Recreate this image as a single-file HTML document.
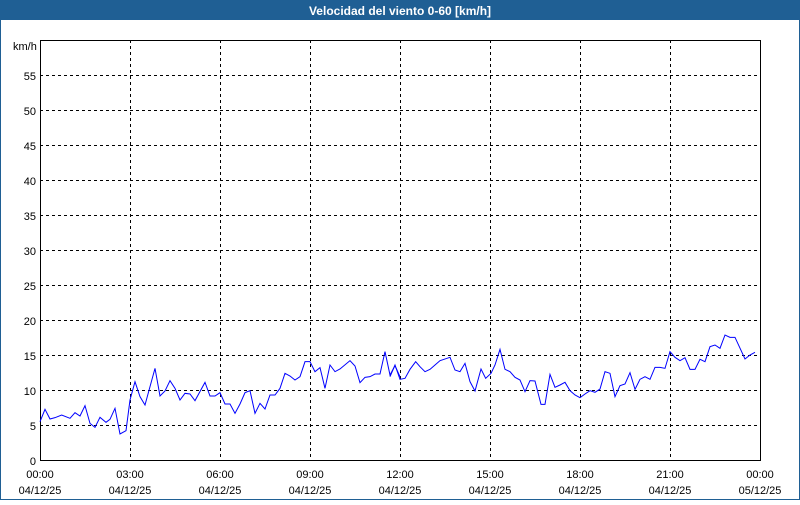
<!DOCTYPE html>
<html><head><meta charset="utf-8"><style>
body{margin:0;width:800px;height:500px;overflow:hidden;background:#fff;font-family:"Liberation Sans",sans-serif}
</style></head><body>
<svg width="800" height="500" xmlns="http://www.w3.org/2000/svg" font-family="Liberation Sans, sans-serif" font-size="11">
<rect x="0" y="0" width="800" height="500" fill="#fff"/>
<rect x="0" y="0" width="800" height="20" fill="#1f5f94"/>
<rect x="0" y="0" width="1" height="500" fill="#1f5f94"/>
<rect x="799" y="0" width="1" height="500" fill="#1f5f94"/>
<rect x="0" y="499" width="800" height="1" fill="#1f5f94"/>
<text x="400" y="15" fill="#fff" font-weight="bold" text-anchor="middle" font-size="12">Velocidad del viento 0-60 [km/h]</text>
<text x="13" y="50" fill="#000">km/h</text>
<g stroke="#000" stroke-dasharray="3,3" stroke-width="1">
<line x1="40" y1="75.5" x2="760" y2="75.5"/><line x1="40" y1="110.5" x2="760" y2="110.5"/>
<line x1="40" y1="145.5" x2="760" y2="145.5"/><line x1="40" y1="180.5" x2="760" y2="180.5"/>
<line x1="40" y1="215.5" x2="760" y2="215.5"/><line x1="40" y1="250.5" x2="760" y2="250.5"/>
<line x1="40" y1="285.5" x2="760" y2="285.5"/><line x1="40" y1="320.5" x2="760" y2="320.5"/>
<line x1="40" y1="355.5" x2="760" y2="355.5"/><line x1="40" y1="390.5" x2="760" y2="390.5"/>
<line x1="40" y1="425.5" x2="760" y2="425.5"/>
<line x1="130.5" y1="40" x2="130.5" y2="460"/><line x1="220.5" y1="40" x2="220.5" y2="460"/>
<line x1="310.5" y1="40" x2="310.5" y2="460"/><line x1="400.5" y1="40" x2="400.5" y2="460"/>
<line x1="490.5" y1="40" x2="490.5" y2="460"/><line x1="580.5" y1="40" x2="580.5" y2="460"/>
<line x1="670.5" y1="40" x2="670.5" y2="460"/>
</g>
<rect x="40.5" y="40.5" width="720" height="420" fill="none" stroke="#000"/>
<g fill="#000" text-anchor="end">
<text x="36" y="80">55</text><text x="36" y="115">50</text><text x="36" y="150">45</text>
<text x="36" y="185">40</text><text x="36" y="220">35</text><text x="36" y="255">30</text>
<text x="36" y="290">25</text><text x="36" y="325">20</text><text x="36" y="360">15</text>
<text x="36" y="395">10</text><text x="36" y="430">5</text><text x="36" y="465">0</text>
</g>
<g fill="#000" text-anchor="middle">
<text x="40" y="478">00:00</text><text x="40" y="494">04/12/25</text>
<text x="130" y="478">03:00</text><text x="130" y="494">04/12/25</text>
<text x="220" y="478">06:00</text><text x="220" y="494">04/12/25</text>
<text x="310" y="478">09:00</text><text x="310" y="494">04/12/25</text>
<text x="400" y="478">12:00</text><text x="400" y="494">04/12/25</text>
<text x="490" y="478">15:00</text><text x="490" y="494">04/12/25</text>
<text x="580" y="478">18:00</text><text x="580" y="494">04/12/25</text>
<text x="670" y="478">21:00</text><text x="670" y="494">04/12/25</text>
<text x="760" y="478">00:00</text><text x="760" y="494">05/12/25</text>
</g>
<g transform="translate(30,320) scale(0.33333)">
<polyline fill="none" stroke="#0000ff" stroke-width="1" vector-effect="non-scaling-stroke" points="30,305 45,268 60,297 75,293 95,285 120,295 135,278 150,288 165,257 180,310 195,322 210,292 228,307 240,298 255,265 270,342 288,332 300,240 315,185 330,230 345,255 375,145 390,228 405,213 420,182 435,205 450,240 465,220 480,222 495,242 525,187 540,228 555,228 570,218 585,252 600,252 615,280 630,252 645,218 660,212 675,280 690,250 705,267 720,225 735,225 750,205 765,160 780,168 795,180 810,170 825,125 840,125 855,155 870,143 885,205 900,135 915,155 930,147 960,122 975,138 990,188 1005,172 1020,170 1035,162 1050,162 1065,95 1080,165 1095,137 1110,170"/>
</g>
<g transform="translate(395,320) scale(0.33333)">
<polyline fill="none" stroke="#0000ff" stroke-width="1" vector-effect="non-scaling-stroke" points="-15,170 0,135 15,178 30,175 45,148 62,125 75,140 90,155 105,148 120,135 135,122 165,112 180,150 195,155 210,130 225,185 240,213 258,147 272,175 288,160 300,135 315,88 330,148 345,155 360,172 375,180 390,215 405,182 420,183 438,253 450,253 465,163 480,202 495,195 510,187 525,212 540,225 555,233 570,222 585,212 600,217 615,207 630,155 645,160 660,230 675,197 690,192 705,158 720,208 735,178 750,170 765,178 780,142 795,142 810,145 825,95 840,112 855,122 870,113 885,148 900,148 915,118 930,125 945,80 960,75 975,85 990,45 1005,52 1020,52 1050,117 1065,105 1080,97"/>
</g>
</svg>
</body></html>
